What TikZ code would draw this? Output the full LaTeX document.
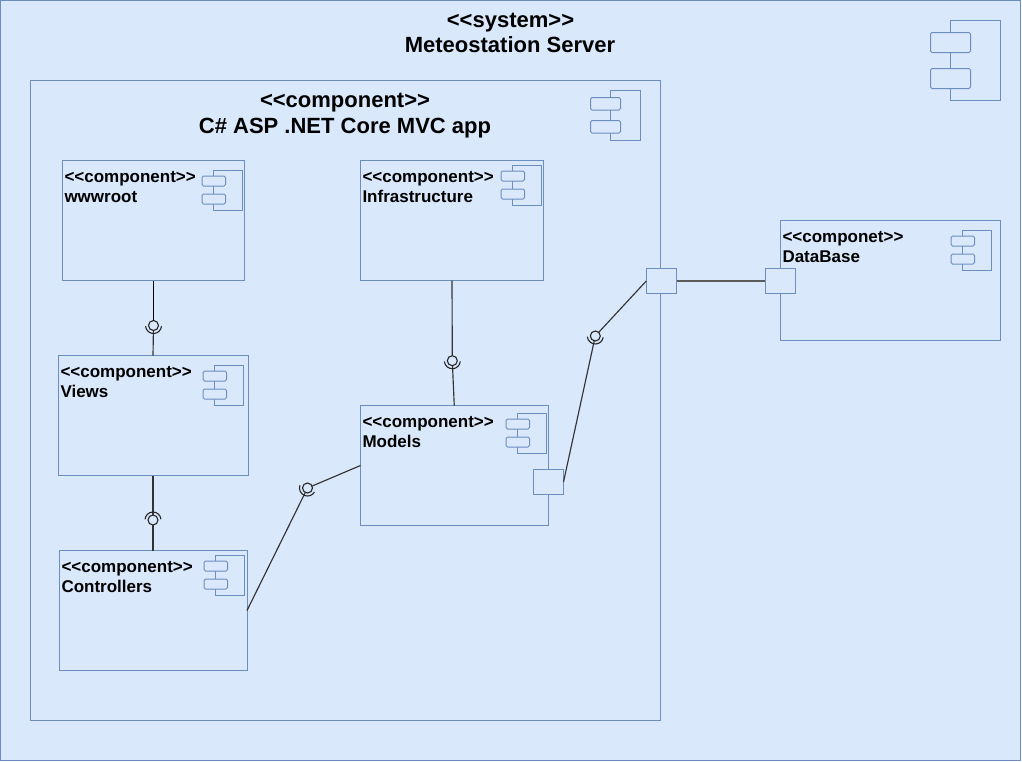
\documentclass[tikz,border=0pt]{standalone}
\usepackage{fontspec}
\setmainfont{Liberation Sans}
\definecolor{fillb}{HTML}{DAE8FC}
\definecolor{edgeb}{HTML}{6C8EBF}
\definecolor{wire}{HTML}{333333}
\tikzset{
  x=1pt,y=-1pt,
  box/.style={draw=edgeb,fill=fillb,line width=1pt,inner sep=0pt,outer sep=0pt,anchor=north west,rectangle},
  port/.style={box,minimum width=30.5pt,minimum height=25pt},
  comp/.style={box,minimum width=#1,minimum height=120pt},
  ball/.style={circle,draw=black!85,fill=fillb,line width=1.1pt,inner sep=0pt,outer sep=0pt,minimum size=10pt},
  wireline/.style={draw=wire,line width=1.15pt},
  sock/.style={draw=black!85,line width=1.1pt},
  tab/.style={draw=edgeb,fill=fillb,line width=1pt,rounded corners=1.5pt},
  lbl/.style={inner sep=0pt,outer sep=0pt,anchor=base west,font=\fontsize{17}{20}\selectfont\bfseries,text=black},
  ttl/.style={inner sep=0pt,outer sep=0pt,anchor=base,font=\fontsize{22}{24}\selectfont\bfseries,text=black}
}
% body left, body top, body w, body h, tab left, tab w, tab h, tab1 top, tab2 top
\newcommand{\compicon}[9]{%
  \draw[draw=edgeb,line width=1pt] (#1,#2) rectangle ++(#3,#4);
  \draw[tab] (#5,#8) rectangle ++(#6,#7);
  \draw[tab] (#5,#9) rectangle ++(#6,#7);
}
\newcommand{\smallicon}[2]{\compicon{#1}{#2}{29.5}{40}{\the\numexpr#1-11\relax}{23.5}{10}{\the\numexpr#2+6\relax}{\the\numexpr#2+24\relax}}
\newcommand{\socket}[3]{\draw[sock] ([shift={(#2:8pt)}]#1.center) arc[start angle=#2,end angle=#3,radius=8pt];}
\begin{document}
\begin{tikzpicture}
\useasboundingbox (0,0) rectangle (1022,761);
% system
\node[box,minimum width=1020pt,minimum height=760pt] (sys) at (0.5,0.5) {};
\compicon{950.5}{20.5}{50}{80}{930.5}{40}{20}{32.5}{68.5}
\node[ttl] (t1) at (510.5,27) {<{}<system>{}>};
\node[ttl] (t2) at (510,52) {Meteostation Server};
% app
\node[box,minimum width=630pt,minimum height=640pt] (app) at (30.5,80.5) {};
\compicon{610.5}{90.5}{30}{50}{590.5}{30}{12.5}{97.5}{120.5}
\node[ttl] (t3) at (345,107) {<{}<component>{}>};
\node[ttl] (t4) at (345,133) {C\# ASP .NET Core MVC app};
% components
\node[comp=182pt] (www) at (62.5,160.5) {};
\smallicon{213}{170}
\node[lbl] (l1a) at (64.5,182) {<{}<component>{}>};
\node[lbl] (l1b) at (64.5,202) {wwwroot};

\node[comp=183pt] (infra) at (360.5,160.5) {};
\smallicon{512}{165}
\node[lbl] (l2a) at (362.5,182) {<{}<component>{}>};
\node[lbl] (l2b) at (362.5,202) {Infrastructure};

\node[comp=190pt] (views) at (58,355.5) {};
\smallicon{214}{365}
\node[lbl] (l3a) at (60.5,377) {<{}<component>{}>};
\node[lbl] (l3b) at (60.5,397) {Views};

\node[comp=187.5pt] (models) at (360.5,405.5) {};
\smallicon{517}{413}
\node[lbl] (l4a) at (362.5,427) {<{}<component>{}>};
\node[lbl] (l4b) at (362.5,447) {Models};

\node[comp=188pt] (ctrl) at (59,550.5) {};
\smallicon{215}{555}
\node[lbl] (l5a) at (61.5,572) {<{}<component>{}>};
\node[lbl] (l5b) at (61.5,592) {Controllers};

\node[comp=220pt] (db) at (780.5,220.5) {};
\smallicon{962}{230}
\node[lbl] (l6a) at (782.5,242) {<{}<componet>{}>};
\node[lbl] (l6b) at (782.5,262) {DataBase};

% ports
\node[port] (mp) at (533,469.5) {};
\node[port] (ap) at (646.25,268.5) {};
\node[port] (dp) at (765.25,268.5) {};

% lollipops
\node[ball] (b1) at (153.5,325.5) {};
\node[ball] (b2) at (153,520) {};
\node[ball] (b3) at (452.3,360.7) {};
\node[ball] (b4) at (307.5,488) {};
\node[ball] (b5) at (595.3,336) {};

\draw[wireline,draw=black] (www.south) -- (b1);
\draw[wireline] (b1) -- (views.north);
\draw[wireline] (views.south) -- (b2);
\draw[wireline] (b2) -- (ctrl.north);
\draw[wireline] (infra.south) -- (b3);
\draw[wireline] (b3) -- (models.north);
\draw[wireline] (ctrl.east) -- (b4);
\draw[wireline] (b4) -- (models.west);
\draw[wireline] (mp.east) -- (b5);
\draw[wireline] (b5) -- (ap.west);
\draw[wireline,line width=1.8pt,draw=wire!80] (ap.east) -- (dp.west);

\socket{b1}{185}{355}
\socket{b2}{5}{175}
\socket{b3}{185}{355}
\socket{b4}{160}{330}
\socket{b5}{185}{350}
\end{tikzpicture}
\end{document}
